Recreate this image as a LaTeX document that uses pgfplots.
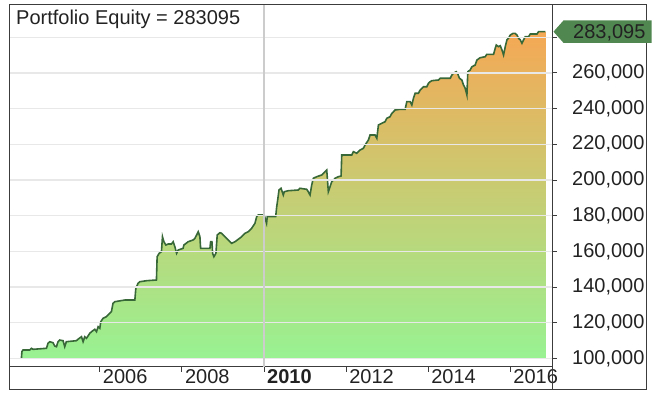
\documentclass[border=0pt]{standalone}
\usepackage{pgfplots}
\pgfplotsset{compat=1.18}
\usepackage{pgfplotstable}
\usepackage{fontspec}
\setmainfont{Liberation Sans}
\definecolor{fillgreen}{RGB}{152,242,146}
\definecolor{fillorange}{RGB}{245,168,85}
\definecolor{eqline}{RGB}{56,104,56}
\definecolor{boxgreen}{RGB}{80,135,80}
\definecolor{txt}{RGB}{34,34,34}
\definecolor{frame}{RGB}{60,60,60}

\pgfplotstableread{
x y
2016.854 100
2004.090 100
2004.102 103.81
2004.129 104.76
2004.293 104.76
2004.334 105.71
2004.373 105.15
2004.700 105.71
2004.739 108.52
2004.780 109.41
2004.861 108.85
2004.902 107.00
2004.944 106.61
2004.983 109.41
2005.024 110.36
2005.105 109.97
2005.146 106.61
2005.185 109.41
2005.429 109.97
2005.468 110.76
2005.554 112.21
2005.593 109.41
2005.634 112.21
2005.676 111.32
2005.756 114.12
2005.798 115.01
2005.878 116.36
2005.920 115.01
2005.959 117.81
2006.000 116.92
2006.024 120.62
2006.080 122.52
2006.161 123.42
2006.244 125.32
2006.283 126.22
2006.322 130.92
2006.366 131.82
2006.610 132.77
2006.854 132.77
2006.878 139.33
2006.932 142.13
2006.976 143.02
2007.139 143.58
2007.380 143.98
2007.397 157.03
2007.446 158.93
2007.502 159.83
2007.527 168.23
2007.561 165.43
2007.610 163.58
2007.666 164.14
2007.746 164.14
2007.788 165.43
2007.829 162.63
2007.871 158.93
2007.910 160.78
2008.029 161.73
2008.049 163.58
2008.154 165.43
2008.273 166.38
2008.317 167.33
2008.359 169.18
2008.398 171.03
2008.439 168.23
2008.456 161.73
2008.683 161.73
2008.700 165.43
2008.732 165.43
2008.749 158.93
2008.780 157.03
2008.829 158.93
2008.861 169.18
2008.927 170.47
2008.968 170.14
2009.049 168.23
2009.129 166.38
2009.212 164.54
2009.293 165.43
2009.373 166.78
2009.456 168.23
2009.537 170.14
2009.617 171.03
2009.700 172.94
2009.780 175.74
2009.822 179.44
2009.861 180.39
2010.005 180.39
2010.063 175.74
2010.080 179.44
2010.285 179.44
2010.310 185.04
2010.334 188.79
2010.366 194.39
2010.415 195.35
2010.471 191.59
2010.495 193.44
2010.593 194.00
2010.837 194.39
2010.878 195.35
2011.041 194.79
2011.080 193.44
2011.122 191.59
2011.163 197.19
2011.202 200.95
2011.285 201.85
2011.407 202.80
2011.488 204.65
2011.529 205.60
2011.568 193.44
2011.610 196.24
2011.651 199.04
2011.732 200.95
2011.812 201.85
2011.878 202.24
2011.895 214.00
2012.139 214.00
2012.178 215.85
2012.261 214.95
2012.341 216.80
2012.422 217.75
2012.463 219.60
2012.544 222.40
2012.585 225.20
2012.707 225.20
2012.749 223.36
2012.788 230.81
2012.871 231.76
2012.951 232.66
2012.993 234.56
2013.073 235.46
2013.115 237.36
2013.195 239.21
2013.317 239.60
2013.439 239.60
2013.480 243.86
2013.561 243.86
2013.602 242.01
2013.641 245.76
2013.683 248.57
2013.763 248.57
2013.805 250.42
2013.885 252.26
2013.966 252.26
2014.007 254.17
2014.049 255.07
2014.090 255.63
2014.251 256.02
2014.293 256.97
2014.537 256.97
2014.578 258.82
2014.617 259.77
2014.683 260.67
2014.715 259.77
2014.763 256.97
2014.820 256.02
2014.861 253.22
2014.902 251.37
2014.944 247.61
2014.966 260.67
2015.024 261.62
2015.066 263.46
2015.146 264.41
2015.188 267.22
2015.268 268.51
2015.390 269.07
2015.429 270.41
2015.593 270.41
2015.634 273.77
2015.659 275.62
2015.714 274.67
2015.756 275.23
2015.798 272.82
2015.837 270.02
2015.878 274.67
2015.920 278.60
2015.959 279.50
2016.000 281.20
2016.066 282.10
2016.122 282.10
2016.163 281.20
2016.202 279.40
2016.244 278.50
2016.285 276.60
2016.324 278.50
2016.366 280.30
2016.446 280.30
2016.488 281.80
2016.651 281.80
2016.690 283.10
2016.854 283.10
}\equity

\begin{document}
\begin{tikzpicture}
\useasboundingbox (-9bp,-31.3bp) rectangle (647bp,366.7bp);
\begin{axis}[
  at={(0,0)}, anchor=south west,
  scale only axis, width=543bp, height=361.7bp,
  xmin=2003.788, xmax=2017.017, ymin=95.41, ymax=298.03,
  axis on top,
  axis line style={draw=frame, line width=1bp},
  xtick={2006,2008,2012,2014,2016},
  xticklabels={2006,2008,2012,2014,2016},
  extra x ticks={2010},
  extra x tick labels={\textbf{2010}},
  extra x tick style={grid=major, major grid style={draw=black!20, line width=1.6bp}},
  xtick pos=bottom, ytick pos=right,
  tick align=outside, major tick length=5bp,
  tick style={draw=frame, line width=0.8bp},
  ytick={100,120,...,280},
  yticklabels={{100,000},{120,000},{140,000},{160,000},{180,000},{200,000},{220,000},{240,000},{260,000},{}},
  yticklabel style={anchor=west, inner sep=0pt, xshift=15bp, font=\fontsize{20bp}{24bp}\selectfont, text=txt},
  xticklabel style={anchor=north west, inner sep=0pt, xshift=3bp, yshift=2bp, font=\fontsize{20bp}{24bp}\selectfont, text=txt},
  ymajorgrids, major grid style={draw=black!9, line width=1.3bp},
  clip=false,
]
\addplot[draw=none, bottom color=fillgreen, top color=fillorange] table[x=x,y=y] {\equity};
\addplot[eqline, line width=1.6bp, skip coords between index={0}{1}] table[x=x,y=y] {\equity};
\coordinate (tl) at (rel axis cs:0,1);
\coordinate (br) at (rel axis cs:1,0);
\coordinate (tip) at (axis cs:2017.017,283.095);
\end{axis}
\draw[frame, line width=1bp] (tl) -- ++(637bp,0) -- ++(0,-384bp) -- ++(-637bp,0) -- cycle;
\draw[frame, line width=1bp] (br) -- ++(0,-22.3bp);
\node[anchor=base west, inner sep=0pt, font=\fontsize{20bp}{24bp}\selectfont, text=txt] at ([xshift=7bp,yshift=-20bp]tl) {Portfolio Equity = 283095};
\fill[boxgreen] ([xshift=1.5bp]tip) -- ++(10bp,11.2bp) -- ++(88bp,0) -- ++(0,-22.4bp) -- ++(-88bp,0) -- cycle;
\node[anchor=base west, inner sep=0pt, font=\fontsize{20bp}{24bp}\selectfont, text=txt] at ([xshift=21bp,yshift=-7.2bp]tip) {283,095};
\end{tikzpicture}
\end{document}
